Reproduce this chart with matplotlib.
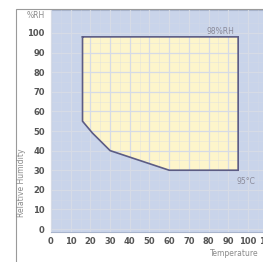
import matplotlib.pyplot as plt
from matplotlib.patches import Polygon, Rectangle

# Test area boundary (temperature degC, relative humidity %)
temp = [16, 95, 95, 60, 30, 21, 16]
rh = [98, 98, 30, 30, 40, 49, 55]

x_ticks = [0, 10, 20, 30, 40, 50, 60, 70, 80, 90, 100, 110]
y_ticks = [0, 10, 20, 30, 40, 50, 60, 70, 80, 90, 100]

W, H = 263, 262
fig = plt.figure(figsize=(W / 100, H / 100), dpi=100)
fig.patch.set_facecolor('white')

# axes placed in pixel terms; right side runs past the image edge
left_px, bottom_px, top_px = 51, 232, 10
xmax = 112
px_per_x = 1.97
ymin, ymax = -1.5, 111.7
ax = fig.add_axes([left_px / W, 1 - bottom_px / H,
                   xmax * px_per_x / W, (bottom_px - top_px) / H])
ax.set_facecolor('#c9d4ea')

ax.add_patch(Polygon(list(zip(temp, rh)), closed=True, facecolor='#fdf5cb',
                     edgecolor='none', zorder=1))
ax.plot(temp + [temp[0]], rh + [rh[0]], color='#5c5c84', lw=1.2, zorder=3,
        solid_joinstyle='miter')

ax.set_xlim(0, xmax)
ax.set_ylim(ymin, ymax)
ax.set_xticks(x_ticks)
ax.set_yticks(y_ticks)
ax.set_xticks(range(5, xmax, 10), minor=True)
ax.set_yticks(range(5, 111, 10), minor=True)
ax.grid(True, which='major', color='#d6dbe6', lw=0.9, zorder=2)
ax.grid(True, which='minor', color='#d6dbe6', lw=0.5, alpha=0.5, zorder=2)
ax.set_axisbelow(False)
for ln in ax.get_xgridlines() + ax.get_ygridlines():
    ln.set_zorder(2)

ax.tick_params(which='both', length=0)
ax.tick_params(axis='x', pad=3.5, labelsize=6, labelcolor='#555555')
ax.tick_params(axis='y', pad=4.5, labelsize=6, labelcolor='#555555')
for lab in ax.get_xticklabels() + ax.get_yticklabels():
    lab.set_fontweight('bold')
for s in ax.spines.values():
    s.set_color('#a9b5cd')
    s.set_linewidth(0.8)

ax.text(86, 100.5, '98%RH', fontsize=5.5, color='#8a8a99', ha='center', va='center', zorder=4)
ax.text(99, 24, '95°C', fontsize=5.5, color='#8a8a99', ha='center', va='center', zorder=4)

# outer frame (left and top edges visible)
fig.add_artist(Rectangle((16 / W, -0.1), 1.2, 1 - 9 / H + 0.1,
                         transform=fig.transFigure, fill=False,
                         edgecolor='#9a9a9a', lw=0.8))

fig.text(36 / W, 1 - 15 / H, '%RH', fontsize=5.5, color='#8a8a8a', ha='center', va='center')
fig.text(22 / W, 1 - 183 / H, 'Relative Humidity', fontsize=5.5, color='#8a8a8a',
         rotation=90, ha='center', va='center')
fig.text(210 / W, 1 - 253 / H, 'Temperature', fontsize=5.5, color='#8a8a8a',
         ha='left', va='center')

fig.savefig('out.png', dpi=100)
